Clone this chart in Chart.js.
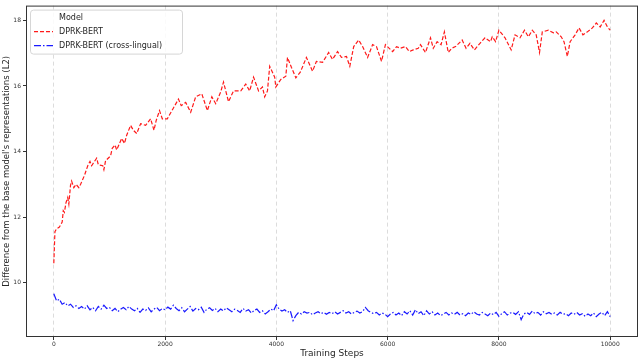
<!DOCTYPE html>
<html>
<head>
<meta charset="utf-8">
<script src="https://cdn.jsdelivr.net/npm/chart.js@4.4.1/dist/chart.umd.min.js"></script>
<style>
  html, body { margin: 0; padding: 0; background: #fff; }
  #wrap { width: 640px; height: 359px; }
</style>
</head>
<body>
<div id="wrap"><canvas id="chart"></canvas></div>
<script>
// values
const redSteps = [0, 20, 50, 100, 150, 170, 190, 220, 250, 270, 300, 320, 360, 400, 450, 480, 550, 610, 650, 680,
  770, 800, 880, 900, 930, 1020, 1050, 1100, 1130, 1220, 1270, 1310, 1380, 1430, 1490, 1560, 1650, 1740, 1800, 1840,
  1900, 1950, 2040, 2140, 2240, 2290, 2370, 2460, 2550, 2660, 2760, 2840, 2910, 3000, 3050, 3140, 3230, 3360, 3450, 3520,
  3590, 3680, 3750, 3790, 3840, 3880, 3970, 3990, 4080, 4170, 4200, 4270, 4350, 4430, 4540, 4650, 4720, 4830, 4940, 5010,
  5100, 5170, 5260, 5320, 5390, 5480, 5550, 5640, 5730, 5800, 5890, 5960, 6090, 6160, 6230, 6320, 6390, 6460, 6550, 6590,
  6680, 6770, 6820, 6890, 6960, 7020, 7090, 7150, 7220, 7340, 7410, 7480, 7560, 7660, 7750, 7850, 7880, 7940, 8000, 8110,
  8220, 8290, 8380, 8460, 8530, 8600, 8670, 8730, 8780, 8890, 8980, 9030, 9120, 9170, 9230, 9280, 9370, 9440, 9510, 9590,
  9680, 9750, 9820, 9890, 9950, 10000];
const redValues = [10.6, 11.56, 11.65, 11.7, 11.85, 12.2, 12.15, 12.45, 12.6, 12.4, 12.97, 13.1, 12.9, 13.0, 12.9, 13.0, 13.27, 13.57, 13.7, 13.57,
  13.8, 13.6, 13.57, 13.45, 13.72, 13.87, 14.1, 14.2, 14.05, 14.4, 14.25, 14.5, 14.8, 14.65, 14.55, 14.85, 14.8, 15.0, 14.65, 14.95,
  15.25, 15.0, 15.0, 15.3, 15.6, 15.4, 15.5, 15.2, 15.67, 15.76, 15.25, 15.67, 15.46, 15.82, 16.12, 15.52, 15.85, 15.85, 16.06, 15.85,
  16.27, 15.85, 15.97, 15.67, 15.85, 16.6, 16.27, 15.97, 16.2, 16.3, 16.87, 16.57, 16.25, 16.42, 16.87, 16.45, 16.75, 16.72, 17.02, 16.81,
  17.05, 16.87, 16.9, 16.6, 17.2, 17.4, 17.2, 16.87, 17.26, 17.2, 16.75, 17.26, 17.05, 17.2, 17.15, 17.2, 17.05, 17.1, 17.15, 17.26,
  17.02, 17.47, 17.15, 17.35, 17.26, 17.65, 17.02, 17.15, 17.2, 17.4, 17.15, 17.3, 17.1, 17.3, 17.47, 17.35, 17.5, 17.35, 17.7, 17.47,
  17.1, 17.56, 17.47, 17.7, 17.5, 17.7, 17.56, 17.02, 17.65, 17.7, 17.62, 17.65, 17.5, 17.35, 16.9, 17.35, 17.56, 17.77, 17.56, 17.65,
  17.77, 17.92, 17.8, 18.0, 17.8, 17.7];

// cross-lingual run, one reading every 50 steps
const blueSteps = Array.from({ length: 201 }, (_, i) => i * 50);
const blueValues = [
  9.67, 9.45, 9.5, 9.35, 9.4, 9.3, 9.35, 9.25, 9.3, 9.22, 9.28, 9.2, 9.3, 9.18, 9.25, 9.15, 9.28, 9.2, 9.32, 9.22,
  9.25, 9.15, 9.22, 9.12, 9.2, 9.25, 9.18, 9.28, 9.2, 9.15, 9.22, 9.1, 9.2, 9.16, 9.24, 9.12, 9.2, 9.25, 9.15, 9.22,
  9.18, 9.26, 9.2, 9.32, 9.22, 9.15, 9.24, 9.12, 9.2, 9.28, 9.14, 9.22, 9.18, 9.26, 9.1, 9.2, 9.24, 9.16, 9.22, 9.12,
  9.2, 9.15, 9.24, 9.18, 9.12, 9.2, 9.16, 9.1, 9.22, 9.14, 9.18, 9.08, 9.16, 9.2, 9.1, 9.15, 9.05, 9.12, 9.2, 9.15,
  9.33, 9.2, 9.14, 9.18, 9.1, 9.15, 8.85, 9.0, 9.1, 9.05, 9.12, 9.08, 9.1, 9.03, 9.08, 9.12, 9.06, 9.1, 9.04, 9.1,
  9.06, 9.12, 9.05, 9.1, 9.15, 9.08, 9.12, 9.05, 9.1, 9.14, 9.08, 9.12, 9.25, 9.15, 9.1, 9.06, 9.1, 9.02, 9.08, 9.05,
  8.97, 9.05, 9.1, 9.02, 9.08, 9.0, 9.12, 9.05, 9.15, 9.02, 9.18, 9.06, 9.12, 9.0, 9.15, 9.05, 9.12, 9.02, 9.08, 9.0,
  9.05, 9.1, 9.02, 9.08, 9.04, 9.1, 9.02, 9.06, 9.0, 9.08, 9.04, 9.12, 9.05, 9.02, 9.1, 9.05, 9.0, 9.08, 9.03, 9.1,
  8.98, 9.06, 9.12, 9.02, 9.08, 9.1, 9.04, 9.12, 8.88, 9.05, 9.1, 9.04, 9.14, 9.06, 9.1, 9.02, 9.12, 9.06, 9.1, 9.04,
  9.08, 9.02, 9.1, 9.04, 9.06, 9.0, 9.08, 9.04, 9.1, 9.02, 9.06, 8.98, 9.05, 9.0, 9.08, 8.97, 9.05, 9.1, 9.0, 9.12,
  8.97];

const seriesNames = ['DPRK-BERT', 'DPRK-BERT (cross-lingual)'];
const legendTitle = 'Model';
const xTicks = [0, 2000, 4000, 6000, 8000, 10000];
const yTicks = [10, 12, 14, 16, 18];

const font = 'DejaVu Sans';

// matplotlib-style frame and legend box
const framePlugin = {
  id: 'frame',
  afterDraw(chart) {
    const { ctx, chartArea: a } = chart;
    ctx.save();
    ctx.strokeStyle = '#333';
    ctx.lineWidth = 1;
    ctx.strokeRect(a.left + 0.5, a.top + 0.5, a.right - a.left - 1, a.bottom - a.top - 1);

    // legend
    const x0 = a.left + 4, y0 = a.top + 4, w = 152, h = 44;
    ctx.beginPath();
    ctx.roundRect(x0 + 0.5, y0 + 0.5, w, h, 3);
    ctx.fillStyle = 'rgba(255,255,255,0.85)';
    ctx.fill();
    ctx.strokeStyle = '#d6d6d6';
    ctx.stroke();

    ctx.font = '8px "' + font + '"';
    ctx.textBaseline = 'middle';
    ctx.fillStyle = '#262626';
    ctx.fillText(legendTitle, x0 + 29, y0 + 8);
    chart.data.datasets.forEach((ds, i) => {
      const yy = y0 + 22 + i * 14;
      ctx.beginPath();
      ctx.setLineDash(ds.borderDash);
      ctx.strokeStyle = ds.borderColor;
      ctx.lineWidth = ds.borderWidth;
      ctx.moveTo(x0 + 4, yy);
      ctx.lineTo(x0 + 23, yy);
      ctx.stroke();
      ctx.setLineDash([]);
      ctx.fillStyle = '#262626';
      ctx.fillText(ds.label, x0 + 29, yy);
    });
    ctx.restore();
  }
};

new Chart(document.getElementById('chart'), {
  type: 'line',
  data: {
    datasets: [
      {
        label: seriesNames[0],
        data: redSteps.map((s, i) => ({ x: s, y: redValues[i] })),
        borderColor: '#ff1a1a',
        borderWidth: 1.2,
        borderDash: [4, 2],
        pointRadius: 0,
        tension: 0
      },
      {
        label: seriesNames[1],
        data: blueSteps.map((s, i) => ({ x: s, y: blueValues[i] })),
        borderColor: '#1a1aff',
        borderWidth: 1.2,
        borderDash: [7, 2, 1.5, 2],
        pointRadius: 0,
        tension: 0
      }
    ]
  },
  options: {
    responsive: true,
    maintainAspectRatio: false,
    animation: false,
    layout: { padding: { top: 1, right: 2, left: 0, bottom: 0 } },
    plugins: {
      legend: { display: false },
      tooltip: { enabled: false }
    },
    scales: {
      x: {
        type: 'linear',
        min: -500,
        max: 10500,
        afterBuildTicks: s => { s.ticks = xTicks.map(v => ({ value: v })); },
        afterFit: s => { s.height = 22; },
        grid: {
          color: '#dcdcdc',
          lineWidth: 1,
          tickLength: 3,
          tickColor: '#333',
          drawTicks: true
        },
        border: { display: false, dash: [4, 3] },
        ticks: {
          color: '#333',
          font: { family: font, size: 6 },
          padding: 1,
          maxRotation: 0,
          callback: v => String(v)
        },
        title: {
          display: true,
          text: 'Training Steps',
          color: '#262626',
          font: { family: font, size: 9 },
          padding: { top: 0, bottom: 0 }
        }
      },
      y: {
        min: 8.35,
        max: 18.45,
        afterBuildTicks: s => { s.ticks = yTicks.map(v => ({ value: v })); },
        afterFit: s => { s.width = 26; },
        grid: {
          drawOnChartArea: false,
          tickLength: 3,
          tickColor: '#333'
        },
        border: { display: false },
        ticks: {
          color: '#333',
          font: { family: font, size: 6 },
          padding: 2,
          callback: v => String(v)
        },
        title: {
          display: true,
          text: "Difference from the base model's representations (L2)",
          color: '#262626',
          font: { family: font, size: 8.5 },
          padding: { top: 2, bottom: 0 }
        }
      }
    }
  },
  plugins: [framePlugin]
});
</script>
</body>
</html>
